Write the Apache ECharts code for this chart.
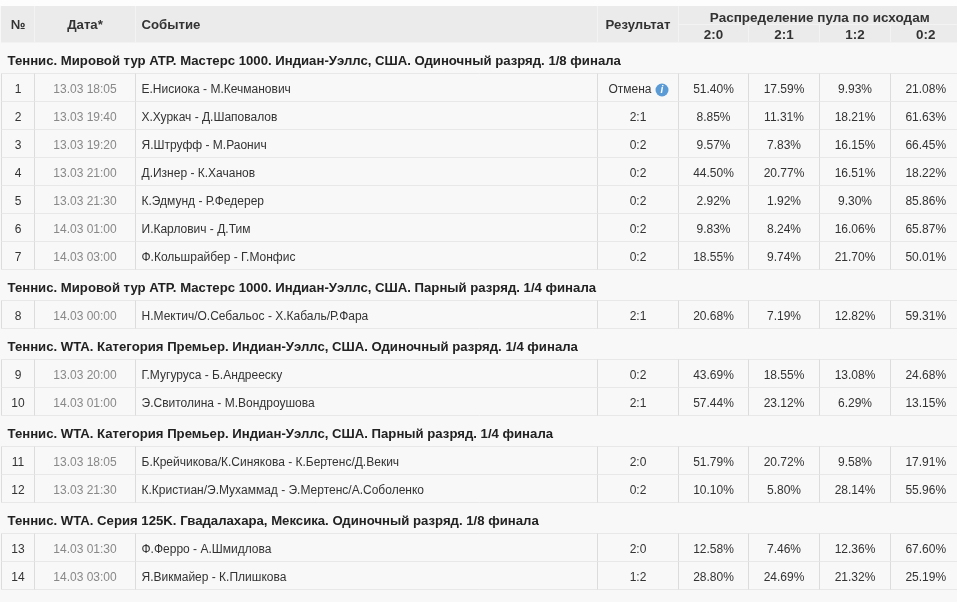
<!DOCTYPE html>
<html>
<head>
    <meta charset="utf-8" />
    <title></title>
    <script src="https://cdn.jsdelivr.net/npm/echarts@6/dist/echarts.min.js"></script>
    <style>
        html, body { margin: 0; padding: 0; background: #f8f8f8; }
        #main { width: 957px; height: 602px; }
    </style>
</head>
<body>
    <div id="main"></div>
    <script>
        // данные таблицы
        var groupTitles = [
            'Теннис. Мировой тур ATP. Мастерс 1000. Индиан-Уэллс, США. Одиночный разряд. 1/8 финала',
            'Теннис. Мировой тур ATP. Мастерс 1000. Индиан-Уэллс, США. Парный разряд. 1/4 финала',
            'Теннис. WTA. Категория Премьер. Индиан-Уэллс, США. Одиночный разряд. 1/4 финала',
            'Теннис. WTA. Категория Премьер. Индиан-Уэллс, США. Парный разряд. 1/4 финала',
            'Теннис. WTA. Серия 125K. Гвадалахара, Мексика. Одиночный разряд. 1/8 финала'
        ];
        var groupSizes = [7, 1, 2, 2, 2];
        var headers = ['№', 'Дата*', 'Событие', 'Результат'];
        var poolTitle = 'Распределение пула по исходам';
        var outcomes = ['2:0', '2:1', '1:2', '0:2'];
        var dates = ['13.03 18:05', '13.03 19:40', '13.03 19:20', '13.03 21:00', '13.03 21:30', '14.03 01:00', '14.03 03:00',
            '14.03 00:00', '13.03 20:00', '14.03 01:00', '13.03 18:05', '13.03 21:30', '14.03 01:30', '14.03 03:00'];
        var events = [
            'Е.Нисиока - М.Кечманович', 'Х.Хуркач - Д.Шаповалов', 'Я.Штруфф - М.Раонич', 'Д.Изнер - К.Хачанов',
            'К.Эдмунд - Р.Федерер', 'И.Карлович - Д.Тим', 'Ф.Кольшрайбер - Г.Монфис',
            'Н.Мектич/О.Себальос - Х.Кабаль/Р.Фара',
            'Г.Мугуруса - Б.Андрееску', 'Э.Свитолина - М.Вондроушова',
            'Б.Крейчикова/К.Синякова - К.Бертенс/Д.Векич', 'К.Кристиан/Э.Мухаммад - Э.Мертенс/А.Соболенко',
            'Ф.Ферро - А.Шмидлова', 'Я.Викмайер - К.Плишкова'
        ];
        var results = ['Отмена', '2:1', '0:2', '0:2', '0:2', '0:2', '0:2', '2:1', '0:2', '2:1', '2:0', '0:2', '2:0', '1:2'];
        var pool20 = [51.40, 8.85, 9.57, 44.50, 2.92, 9.83, 18.55, 20.68, 43.69, 57.44, 51.79, 10.10, 12.58, 28.80];
        var pool21 = [17.59, 11.31, 7.83, 20.77, 1.92, 8.24, 9.74, 7.19, 18.55, 23.12, 20.72, 5.80, 7.46, 24.69];
        var pool12 = [9.93, 18.21, 16.15, 16.51, 9.30, 16.06, 21.70, 12.82, 13.08, 6.29, 9.58, 28.14, 12.36, 21.32];
        var pool02 = [21.08, 61.63, 66.45, 18.22, 85.86, 65.87, 50.01, 59.31, 24.68, 13.15, 17.91, 55.96, 67.60, 25.19];

        // разметка в пикселях картинки (таблица обрезана справа, поэтому край 961)
        var colEdges = [1.5, 34.5, 135.5, 597.5, 678.5, 748.5, 819.5, 890.5, 961];
        var headTop = 6, headMid = 24.5, headBottom = 42.5;
        var groupH = 31, rowH = 28;
        var font = 'Arial, "Liberation Sans", sans-serif';

        var cells = [];
        function addCell(c) { cells.push(c); }

        // шапка
        addCell({ x0: 0, x1: 957, y0: 0, y1: headTop, fill: '#fdfdfd' });
        addCell({ x0: 1, x1: colEdges[8], y0: headTop, y1: headBottom, fill: '#ebebeb' });
        [1, 2, 3, 4].forEach(function (i) {
            addCell({ x0: colEdges[i], x1: colEdges[i], y0: headTop, y1: headBottom, line: '#f3f3f3' });
        });
        [5, 6, 7].forEach(function (i) {
            addCell({ x0: colEdges[i], x1: colEdges[i], y0: headMid, y1: headBottom, line: '#f3f3f3' });
        });
        addCell({ x0: colEdges[4], x1: colEdges[8], y0: headMid, y1: headMid, line: '#f3f3f3' });
        headers.forEach(function (h, i) {
            addCell({
                x0: colEdges[i], x1: colEdges[i + 1], y0: headTop, y1: headBottom, text: h, dy: 1,
                align: i === 2 ? 'left' : 'center', weight: 'bold', size: 13.2, color: '#333'
            });
        });
        addCell({
            x0: colEdges[4], x1: colEdges[8], y0: headTop, y1: headMid, text: poolTitle, dy: 3,
            align: 'center', weight: 'bold', size: 13.5, color: '#333'
        });
        outcomes.forEach(function (o, i) {
            addCell({
                x0: colEdges[4 + i], x1: colEdges[5 + i], y0: headMid, y1: headBottom, text: o, dy: 2,
                align: 'center', weight: 'bold', size: 13.4, color: '#333'
            });
        });

        // группы и строки
        var y = headBottom, n = 0;
        groupTitles.forEach(function (title, g) {
            addCell({
                x0: colEdges[0], x1: colEdges[8], y0: y, y1: y + groupH, text: title, dy: 3.5,
                align: 'left', weight: 'bold', size: 13.17, color: '#222'
            });
            y += groupH;
            for (var k = 0; k < groupSizes[g]; k++, n++) {
                var values = [n + 1, dates[n], events[n], results[n],
                    pool20[n].toFixed(2) + '%', pool21[n].toFixed(2) + '%', pool12[n].toFixed(2) + '%', pool02[n].toFixed(2) + '%'];
                addCell({ x0: colEdges[0], x1: 957, y0: y, y1: y, line: '#e8e8e8' });
                addCell({ x0: colEdges[0], x1: 957, y0: y + rowH, y1: y + rowH, line: '#e8e8e8' });
                for (var i = 0; i < 8; i++) {
                    addCell({ x0: colEdges[i], x1: colEdges[i], y0: y, y1: y + rowH, line: '#dcdcdc' });
                    addCell({
                        x0: colEdges[i], x1: colEdges[i + 1], y0: y, y1: y + rowH, text: String(values[i]), dy: 2,
                        align: i === 2 ? 'left' : 'center', size: 12,
                        color: i === 1 ? '#888' : '#333',
                        icon: i === 3 && results[n] === 'Отмена'
                    });
                }
                y += rowH;
            }
        });

        function renderCell(params, api) {
            var c = cells[api.value(4)];
            var a = api.coord([api.value(0), api.value(1)]);
            var b = api.coord([api.value(2), api.value(3)]);
            if (c.fill) {
                return { type: 'rect', shape: { x: a[0], y: a[1], width: b[0] - a[0], height: b[1] - a[1] }, style: { fill: c.fill } };
            }
            if (c.line) {
                return { type: 'line', shape: { x1: a[0], y1: a[1], x2: b[0], y2: b[1] }, style: { stroke: c.line, lineWidth: 1 } };
            }
            var tx = c.align === 'left' ? a[0] + 6 : (a[0] + b[0]) / 2;
            var ty = (a[1] + b[1]) / 2 + c.dy;
            var children = [];
            if (c.icon) {
                tx -= 8;
                children.push({ type: 'circle', shape: { cx: tx + 32, cy: ty + 0.5, r: 6.5 }, style: { fill: '#5b9bd5' } });
                children.push({
                    type: 'text',
                    style: { x: tx + 32, y: ty + 0.5, text: 'i', fill: '#fff', font: 'italic bold 10px ' + font, align: 'center', verticalAlign: 'middle' }
                });
            }
            children.push({
                type: 'text',
                style: {
                    x: tx, y: ty, text: c.text, fill: c.color,
                    font: (c.weight ? c.weight + ' ' : '') + c.size + 'px ' + font,
                    align: c.align, verticalAlign: 'middle'
                }
            });
            return { type: 'group', children: children };
        }

        var myChart = echarts.init(document.getElementById('main'));
        myChart.setOption({
            animation: false,
            backgroundColor: '#f8f8f8',
            grid: { left: 0, right: 0, top: 0, bottom: 0 },
            xAxis: { type: 'value', min: 0, max: 957, show: false },
            yAxis: { type: 'value', min: 0, max: 602, inverse: true, show: false },
            series: [{
                type: 'custom',
                silent: true,
                clip: true,
                renderItem: renderCell,
                data: cells.map(function (c, i) { return [c.x0, c.y0, c.x1, c.y1, i]; })
            }]
        });
    </script>
</body>
</html>
